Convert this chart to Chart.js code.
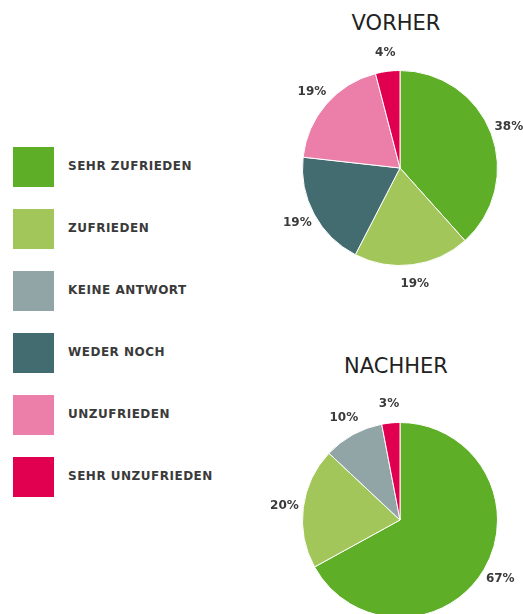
<!DOCTYPE html>
<html>
<head>
<meta charset="utf-8">
<script src="https://cdn.jsdelivr.net/npm/chart.js@4.4.1/dist/chart.umd.min.js"></script>
<style>
    html, body { margin: 0; padding: 0; background: #fff; overflow: hidden; width: 523px; height: 614px; }
    canvas { position: absolute; left: 0; top: 0; }
    .titel { position: absolute; width: 200px; left: 296px; text-align: center; font-family: "DejaVu Sans", sans-serif; font-size: 21px; color: #222; line-height: 24px; }
    #legende { position: absolute; left: 13px; top: 147px; }
    .eintrag { position: relative; height: 41px; margin-bottom: 21px; }
    .farbe { position: absolute; left: 0; top: 0; width: 41px; height: 40px; }
    .text { position: absolute; left: 55px; top: 12px; font-family: "DejaVu Sans", sans-serif; font-weight: bold; font-size: 12px; letter-spacing: 0.5px; color: #3a3a3a; white-space: nowrap; }
</style>
</head>
<body>
<div class="titel" style="top: 11px;">VORHER</div>
<div class="titel" style="top: 354px;">NACHHER</div>
<div id="legende"></div>
<canvas id="vorherCanvas" width="523" height="614"></canvas>
<canvas id="nachherCanvas" width="523" height="640"></canvas>
<script>
const kategorien = ["SEHR ZUFRIEDEN", "ZUFRIEDEN", "KEINE ANTWORT", "WEDER NOCH", "UNZUFRIEDEN", "SEHR UNZUFRIEDEN"];
const farben = ["#5fae27", "#a3c65a", "#91a5a6", "#426c70", "#ec7fa9", "#e0004f"];
const vorherWerte = [38, 19, 0, 19, 19, 4];
const nachherWerte = [67, 20, 10, 0, 0, 3];

// legende links
const legende = document.getElementById("legende");
kategorien.forEach((name, i) => {
    const eintrag = document.createElement("div");
    eintrag.className = "eintrag";
    eintrag.innerHTML = `<div class="farbe" style="background:${farben[i]}"></div><div class="text">${name}</div>`;
    legende.appendChild(eintrag);
});

// prozentwerte außerhalb der tortenstücke
const aussenLabels = {
    id: "aussenLabels",
    afterDatasetsDraw(chart) {
        const ctx = chart.ctx;
        const meta = chart.getDatasetMeta(0);
        const werte = chart.data.datasets[0].data;
        ctx.save();
        ctx.font = "bold 12px 'DejaVu Sans', sans-serif";
        ctx.fillStyle = "#3a3a3a";
        ctx.textAlign = "center";
        ctx.textBaseline = "middle";
        meta.data.forEach((arc, i) => {
            if (!werte[i]) return;
            const { x, y, startAngle, endAngle, outerRadius } = arc.getProps(["x", "y", "startAngle", "endAngle", "outerRadius"], true);
            const winkel = (startAngle + endAngle) / 2;
            const r = outerRadius + 19;
            ctx.fillText(werte[i] + "%", x + Math.cos(winkel) * r, y + Math.sin(winkel) * r);
        });
        ctx.restore();
    }
};

function zeichneTorte(canvasId, werte, padding) {
    const ctx = document.getElementById(canvasId).getContext("2d");
    return new Chart(ctx, {
        type: "pie",
        data: {
            labels: kategorien,
            datasets: [{
                data: werte,
                backgroundColor: farben,
                borderColor: "#ffffff",
                borderWidth: c => (c.raw > 0 ? 1 : 0)
            }]
        },
        options: {
            responsive: false,
            animation: false,
            layout: { padding: padding },
            plugins: {
                legend: { display: false },
                tooltip: { enabled: false }
            }
        },
        plugins: [aussenLabels]
    });
}

zeichneTorte("vorherCanvas", vorherWerte, { left: 302, right: 25, top: 70, bottom: 348 });
zeichneTorte("nachherCanvas", nachherWerte, { left: 302, right: 25, top: 422, bottom: 22 });
</script>
</body>
</html>
